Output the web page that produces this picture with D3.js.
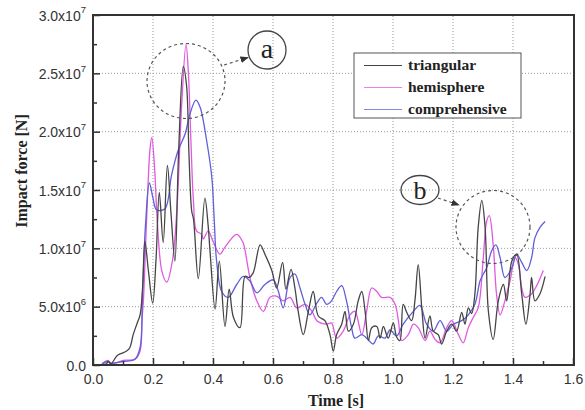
<!DOCTYPE html>
<html><head><meta charset="utf-8">
<script src="https://cdn.jsdelivr.net/npm/d3@7"></script>
<style>body{margin:0;background:#fff}svg{display:block}</style>
</head><body>
<svg id="c" width="585" height="410"></svg>
<script>
// ---- data (force in units of 1e6 N) ----
const seriesNames = ["triangular", "hemisphere", "comprehensive"];
const seriesColors = ["#454545", "#e05ae0", "#5f5fd8"];

const triangularTime = [0.03,0.045,0.05,0.06,0.08,0.095,0.112,0.123,0.134,0.146,0.157,0.165,0.173,0.185,0.199,0.21,0.221,0.234,0.248,0.26,0.273,0.285,0.301,0.312,0.32,0.329,0.335,0.351,0.373,0.384,0.39,0.407,0.421,0.44,0.454,0.468,0.49,0.507,0.52,0.534,0.557,0.573,0.596,0.612,0.632,0.643,0.66,0.673,0.684,0.701,0.718,0.734,0.751,0.773,0.79,0.801,0.812,0.829,0.84,0.851,0.868,0.884,0.896,0.907,0.918,0.929,0.946,0.957,0.968,0.984,1.001,1.012,1.023,1.034,1.046,1.062,1.073,1.084,1.096,1.107,1.123,1.134,1.151,1.162,1.179,1.196,1.212,1.229,1.24,1.251,1.262,1.273,1.284,1.296,1.307,1.318,1.334,1.351,1.368,1.379,1.396,1.412,1.429,1.443,1.457,1.462,1.473,1.49,1.507];
const triangularForce = [0,0.1,0.3,0.1,0.8,1.0,1.2,1.5,2.6,3.5,4.3,6.5,10.6,8.0,5.3,9.0,14.8,10.5,17.1,13.0,8.9,18.0,25.6,23.9,18.0,13.2,12.5,7.4,14.3,11.9,9.8,4.8,8.9,3.3,6.5,4.1,3.2,7.6,7.5,7.9,10.3,9.5,8.1,6.6,8.8,6.5,8.2,6.6,4.6,2.6,4.6,6.3,4.2,3.8,2.6,1.2,2.6,3.5,4.6,2.9,3.5,5.5,6.3,4.6,2.1,3.2,3.3,2.3,3.3,2.3,3.6,2.4,2.1,5.2,4.5,3.8,5.5,8.6,4.9,2.3,4.2,2.9,2.6,1.8,2.9,3.5,2.9,4.5,3.5,4.9,4.4,6.1,11.8,14.1,11.8,4.6,2.2,5.5,6.9,5.5,8.9,9.5,6.1,3.5,6.1,7.5,5.5,6.1,7.6];

const hemisphereTime = [0.03,0.05,0.06,0.08,0.1,0.14,0.157,0.163,0.168,0.178,0.19,0.196,0.205,0.215,0.23,0.246,0.265,0.28,0.295,0.31,0.318,0.326,0.335,0.345,0.362,0.368,0.384,0.4,0.423,0.44,0.479,0.5,0.507,0.523,0.546,0.568,0.59,0.612,0.634,0.657,0.679,0.707,0.73,0.746,0.779,0.795,0.812,0.834,0.857,0.873,0.896,0.912,0.929,0.946,0.962,0.99,1.007,1.018,1.029,1.051,1.068,1.084,1.107,1.123,1.14,1.157,1.179,1.196,1.218,1.234,1.251,1.268,1.284,1.301,1.312,1.321,1.334,1.345,1.357,1.373,1.39,1.407,1.418,1.429,1.44,1.462,1.479,1.501];
const hemisphereForce = [0.1,0.4,0.15,0.2,0.4,0.5,1.2,3.8,5.5,12.0,18.5,19.5,17.0,12.0,8.0,7.1,9.0,13.5,22.0,27.5,25.0,19.5,14.0,11.5,11.2,10.8,11.5,10.6,9.5,10.1,11.2,10.5,9.8,7.5,5.5,4.6,5.8,5.9,5.5,5.8,4.9,5.2,4.6,3.8,3.5,3.6,2.3,2.9,4.3,4.6,2.6,4.6,6.6,6.3,5.8,5.8,5.2,3.8,2.1,2.6,3.5,3.2,2.1,2.9,2.2,1.9,3.2,3.8,2.6,1.9,3.2,4.1,4.9,9.2,12.3,12.8,10.3,6.1,4.3,5.5,7.2,9.2,8.6,6.6,5.8,6.1,6.8,8.1];

const comprehensiveTime = [0.03,0.05,0.06,0.1,0.14,0.157,0.165,0.175,0.188,0.2,0.212,0.24,0.262,0.284,0.307,0.323,0.343,0.357,0.379,0.396,0.404,0.412,0.429,0.451,0.479,0.501,0.523,0.546,0.573,0.601,0.618,0.634,0.657,0.673,0.69,0.707,0.723,0.746,0.762,0.779,0.795,0.812,0.829,0.845,0.862,0.873,0.896,0.912,0.934,0.951,0.973,0.99,1.012,1.034,1.068,1.09,1.112,1.134,1.157,1.179,1.201,1.229,1.251,1.273,1.29,1.301,1.312,1.329,1.343,1.357,1.373,1.396,1.412,1.429,1.446,1.462,1.473,1.49,1.507];
const comprehensiveForce = [0.1,0.3,0.15,0.3,0.5,1.5,6.0,12.0,15.6,14.3,13.3,13.4,16.3,18.4,19.8,21.5,22.7,22.1,19.2,16.1,12.5,8.9,6.3,5.8,6.9,7.6,7.2,6.2,6.9,7.3,6.3,4.9,7.5,7.8,6.6,5.2,4.3,5.3,5.8,5.2,5.5,6.3,6.8,5.5,3.2,2.3,2.6,2.3,1.8,2.5,2.3,3.0,2.5,3.5,4.6,5.1,3.5,2.9,3.8,2.9,3.5,3.8,4.3,5.2,7.2,7.8,8.3,9.8,10.3,9.2,7.5,8.3,9.5,8.8,8.1,9.2,10.9,11.8,12.3];

const xTickLabels = ["0.0","0.2","0.4","0.6","0.8","1.0","1.2","1.4","1.6"];
const yTickLabels = ["0.0","5.0x10^6","1.0x10^7","1.5x10^7","2.0x10^7","2.5x10^7","3.0x10^7"];
const xTitle = "Time [s]";
const yTitle = "Impact force [N]";

// ---- drawing ----
const svg = d3.select("#c");
const x = d3.scaleLinear().domain([0, 1.6]).range([93, 573]);
const y = d3.scaleLinear().domain([0, 3e7]).range([365, 15]);
const serif = "'Liberation Serif','Times New Roman',serif";
const sans = "'Liberation Sans',Arial,sans-serif";

// grid
const xMajor = xTickLabels.map(Number);
const yMajor = yTickLabels.map(s => { const p = s.split("x10^"); return p.length > 1 ? +p[0] * Math.pow(10, +p[1]) : +p[0]; });
const grid = svg.append("g").attr("stroke", "#9a9a9a").attr("stroke-width", 1).attr("stroke-dasharray", "1,2");
xMajor.slice(1, -1).forEach(v => grid.append("line").attr("x1", x(v)).attr("x2", x(v)).attr("y1", y(0)).attr("y2", y(3e7)));
yMajor.slice(1, -1).forEach(v => grid.append("line").attr("y1", y(v)).attr("y2", y(v)).attr("x1", x(0)).attr("x2", x(1.6)));

// series
const curve = d3.curveCatmullRom.alpha(0.5);
const seriesData = [
  d3.zip(triangularTime, triangularForce),
  d3.zip(hemisphereTime, hemisphereForce),
  d3.zip(comprehensiveTime, comprehensiveForce)
];
const line = d3.line().x(d => x(d[0])).y(d => y(d[1] * 1e6)).curve(curve);
[1, 2, 0].forEach(i => {
  svg.append("path").attr("d", line(seriesData[i])).attr("fill", "none")
    .attr("stroke", seriesColors[i]).attr("stroke-width", 1.3).attr("stroke-linejoin", "round");
});

// axes (ticks inside)
const xAxis = d3.axisBottom(x).tickValues(xMajor).tickSize(-7).tickFormat((d, i) => xTickLabels[i]);
const gx = svg.append("g").attr("transform", `translate(0,${y(0)})`).call(xAxis);
gx.select(".domain").remove();
gx.selectAll("line").attr("stroke", "#333").attr("stroke-width", 1.5);
gx.selectAll("text").attr("font-family", sans).attr("font-size", 14).attr("fill", "#333").attr("y", 9).attr("dy", "0.71em");
const xMinor = d3.axisBottom(x).tickValues(d3.range(0.1, 1.6, 0.2)).tickSize(-4).tickFormat("");
const gxm = svg.append("g").attr("transform", `translate(0,${y(0)})`).call(xMinor);
gxm.select(".domain").remove();
gxm.selectAll("line").attr("stroke", "#333").attr("stroke-width", 1.5);

const yAxis = d3.axisLeft(y).tickValues(yMajor).tickSize(-7).tickFormat("");
const gy = svg.append("g").attr("transform", `translate(${x(0)},0)`).call(yAxis);
gy.select(".domain").remove();
gy.selectAll("line").attr("stroke", "#333").attr("stroke-width", 1.5);
gy.selectAll(".tick").each(function(d, i) {
  const parts = yTickLabels[i].split("^");
  const t = d3.select(this).append("text").attr("x", -7).attr("dy", "0.36em")
    .attr("text-anchor", "end").attr("font-family", sans).attr("font-size", 14).attr("fill", "#333");
  t.append("tspan").text(parts[0]);
  if (parts[1]) t.append("tspan").attr("font-size", 9.5).attr("dy", "-0.75em").text(parts[1]);
});
const yMinor = d3.axisLeft(y).tickValues(d3.range(2.5e6, 3e7, 5e6)).tickSize(-4).tickFormat("");
const gym = svg.append("g").attr("transform", `translate(${x(0)},0)`).call(yMinor);
gym.select(".domain").remove();
gym.selectAll("line").attr("stroke", "#333").attr("stroke-width", 1.5);

// frame
svg.append("rect").attr("x", x(0)).attr("y", y(3e7)).attr("width", x(1.6) - x(0) + 1).attr("height", y(0) - y(3e7))
  .attr("fill", "none").attr("stroke", "#333").attr("stroke-width", 2);

// titles
svg.append("text").attr("x", (x(0) + x(1.6)) / 2 + 3).attr("y", 406).attr("text-anchor", "middle")
  .attr("font-family", serif).attr("font-weight", "bold").attr("font-size", 16).attr("fill", "#222").text(xTitle);
svg.append("text").attr("transform", "translate(27,171) rotate(-90)").attr("text-anchor", "middle")
  .attr("font-family", serif).attr("font-weight", "bold").attr("font-size", 16).attr("fill", "#222").text(yTitle);

// legend
const lg = svg.append("g");
lg.append("rect").attr("x", 354).attr("y", 53).attr("width", 167).attr("height", 65)
  .attr("fill", "#fff").attr("stroke", "#555").attr("stroke-width", 1);
seriesNames.forEach((n, i) => {
  const yy = 65.5 + i * 22;
  lg.append("line").attr("x1", 364).attr("x2", 402).attr("y1", yy).attr("y2", yy)
    .attr("stroke", seriesColors[i]).attr("stroke-width", 1.2).attr("opacity", i === 0 ? 1 : 0.75);
  lg.append("text").attr("x", 408).attr("y", yy).attr("dy", "0.32em")
    .attr("font-family", serif).attr("font-weight", "bold").attr("font-size", 15.5).attr("fill", "#222").text(n);
});

// annotations
const defs = svg.append("defs");
defs.append("marker").attr("id", "ah").attr("viewBox", "0 0 10 10").attr("refX", 9).attr("refY", 5)
  .attr("markerWidth", 7).attr("markerHeight", 7).attr("orient", "auto")
  .append("path").attr("d", "M0,1 L10,5 L0,9 Z").attr("fill", "#333");
const ann = svg.append("g").attr("fill", "none").attr("stroke", "#555").attr("stroke-width", 1.2);
ann.append("ellipse").attr("cx", 186).attr("cy", 81).attr("rx", 39).attr("ry", 37.5).attr("stroke-dasharray", "3,3");
ann.append("ellipse").attr("cx", 493).attr("cy", 227).attr("rx", 37).attr("ry", 36.5).attr("stroke-dasharray", "3,3");
ann.append("line").attr("x1", 224).attr("y1", 65).attr("x2", 248).attr("y2", 57.5).attr("stroke-dasharray", "3,3").attr("marker-end", "url(#ah)");
ann.append("line").attr("x1", 438).attr("y1", 198).attr("x2", 459).attr("y2", 205).attr("stroke-dasharray", "3,3").attr("marker-end", "url(#ah)");
ann.append("circle").attr("cx", 267).attr("cy", 50).attr("r", 19).attr("stroke", "#444").attr("stroke-width", 1.3);
ann.append("ellipse").attr("cx", 420).attr("cy", 190).attr("rx", 19).attr("ry", 14.5).attr("stroke", "#444").attr("stroke-width", 1.3);
svg.append("text").attr("x", 267).attr("y", 50).attr("dy", "0.3em").attr("text-anchor", "middle")
  .attr("font-family", serif).attr("font-size", 28).attr("fill", "#222").text("a");
svg.append("text").attr("x", 420).attr("y", 190).attr("dy", "0.33em").attr("text-anchor", "middle")
  .attr("font-family", serif).attr("font-size", 26).attr("fill", "#222").text("b");
</script>
</body></html>
